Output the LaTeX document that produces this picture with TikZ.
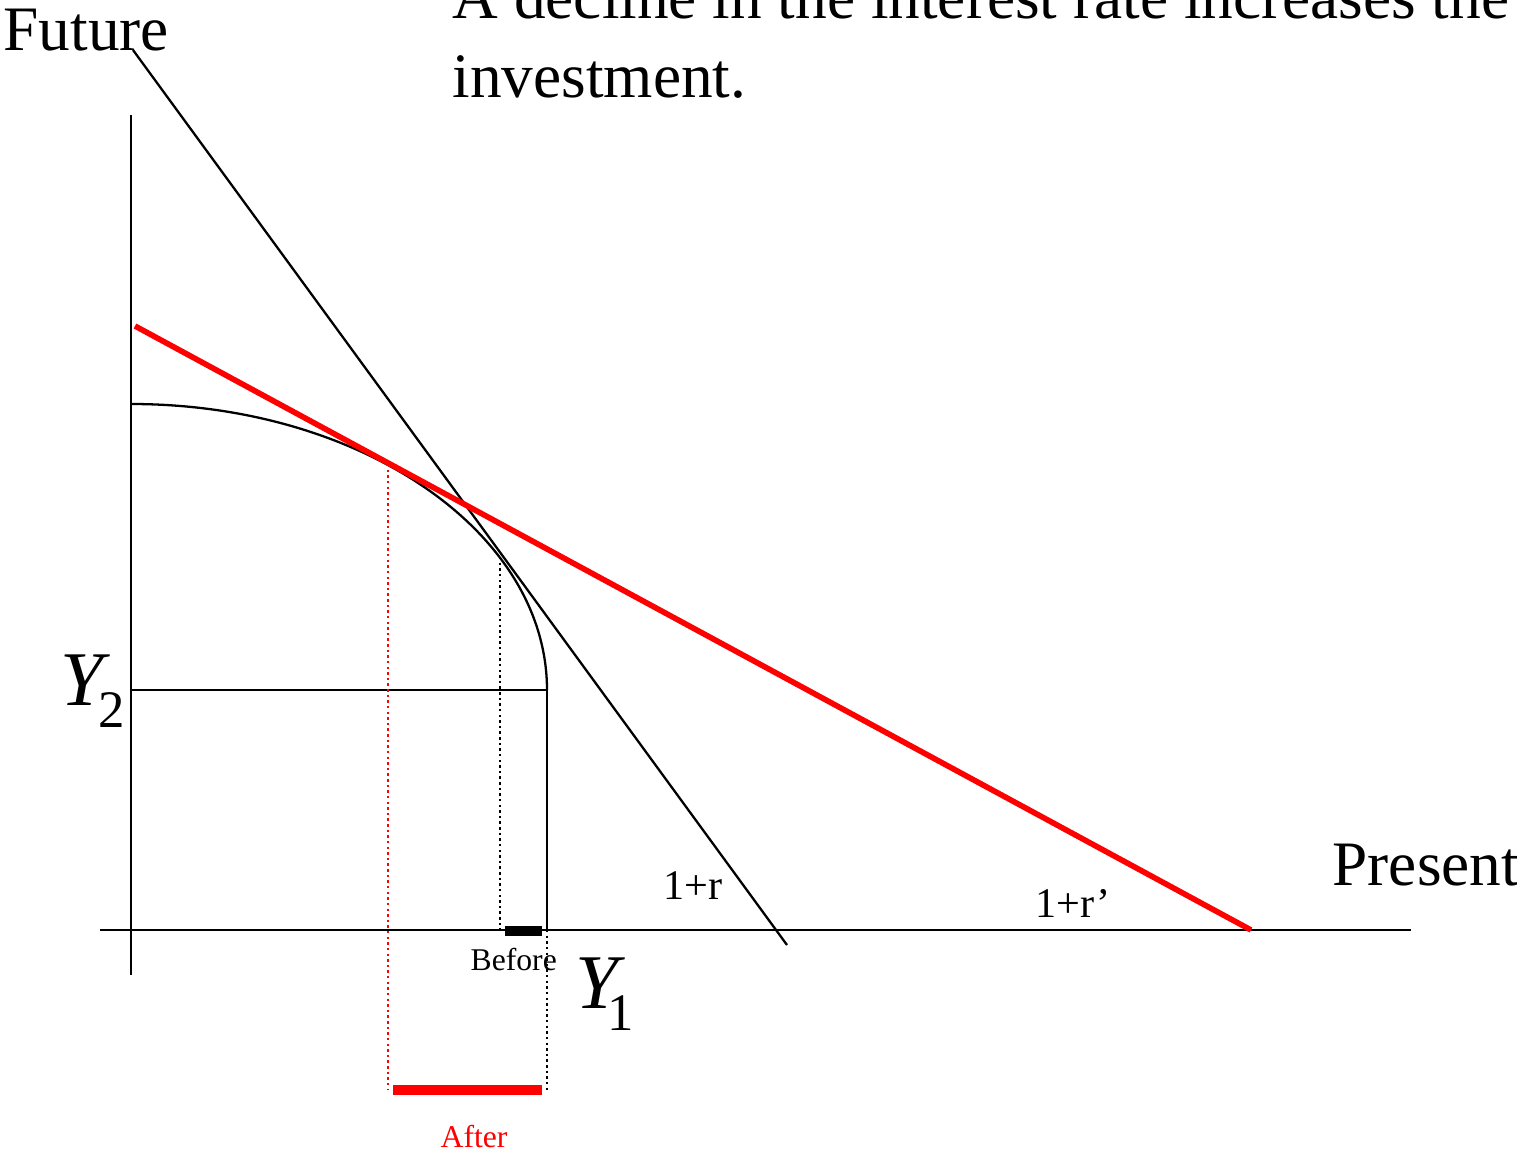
\documentclass[tikz,border=0pt]{standalone}
\usepackage{fontspec}
\setmainfont{Liberation Serif}
\usetikzlibrary{positioning}
\usetikzlibrary{calc}

\begin{document}
\begin{tikzpicture}[x=0.01cm, y=-0.01cm, every node/.style={inner sep=0pt, anchor=base west}, axis/.style={line width=0.75pt}, budget/.style={line width=0.65pt}, newbudget/.style={red, line width=1.6pt}, guide/.style={line width=0.65pt, dash pattern=on 0.7pt off 0.9pt}, bar/.style={line width=2.6pt}]
    \useasboundingbox (0,0) rectangle (1517,1151);

    % axes
    \coordinate (ytop) at (131,115);
    \coordinate (ybot) at (131,975);
    \coordinate (xleft) at (100,930);
    \coordinate (xright) at (1411,930);
    \draw[axis] (ytop) -- (ybot);
    \draw[axis] (xleft) -- (xright);

    % production frontier and endowment
    \coordinate (ppftop) at (131,404);
    \coordinate (endow) at (547,690);
    \coordinate (ytwo) at (131,690);
    \coordinate (yone) at (547,930);
    \coordinate (yonelow) at (547,1090);
    \draw[budget] (ppftop) .. controls (361,404) and (547,532) .. (endow);
    \draw[budget] (ytwo) -- (endow);
    \draw[budget] (endow) -- (yone);
    \draw[guide] (yone) -- (yonelow);

    % interest rate lines
    \coordinate (rtop) at (133,50);
    \coordinate (rend) at (787,945);
    \coordinate (rptop) at (135,326);
    \coordinate (rpend) at (1251,930);
    \draw[budget] (rtop) -- (rend);
    \draw[newbudget] (rptop) -- (rpend);

    % tangency points
    \coordinate (tanold) at (500,557);
    \coordinate (tanoldx) at (500,930);
    \coordinate (tannew) at (388,464);
    \coordinate (tannewx) at (388,1090);
    \draw[guide] (tanold) -- (tanoldx);
    \draw[guide, red] (tannew) -- (tannewx);

    % investment bars
    \coordinate (befa) at (505,931);
    \coordinate (befb) at (542,931);
    \coordinate (afta) at (393,1090);
    \coordinate (aftb) at (542,1090);
    \draw[bar] (befa) -- (befb);
    \draw[bar, red, line width=2.9pt] (afta) -- (aftb);

    % labels
    \node (future) at (3,50) {\fontsize{18}{22}\selectfont Future};
    \node (present) at (1332,885) {\fontsize{18}{22}\selectfont Present};
    \node (title) at (452,18) {\fontsize{18}{22}\selectfont A decline in the interest rate increases the};
    \node (title2) at (452,97) {\fontsize{18}{22}\selectfont investment.};
    \node (rate) at (663,899) {\fontsize{12}{14}\selectfont 1+r};
    \node (ratenew) at (1035,917) {\fontsize{12}{14}\selectfont 1+r’};
    \node (before) at (470,970) {\fontsize{9}{11}\selectfont Before};
    \node (after) [text=red] at (440,1147) {\fontsize{9}{11}\selectfont After};
    \node (labytwo) at (60,705) {\fontsize{22}{26}\selectfont\itshape Y\upshape\kern-1.5pt\fontsize{15}{18}\selectfont\raisebox{-6.4pt}{2}};
    \node (labyone) at (575,1008) {\fontsize{22}{26}\selectfont\itshape Y\upshape\kern-3.2pt\fontsize{15}{18}\selectfont\raisebox{-6.4pt}{1}};
\end{tikzpicture}
\end{document}
